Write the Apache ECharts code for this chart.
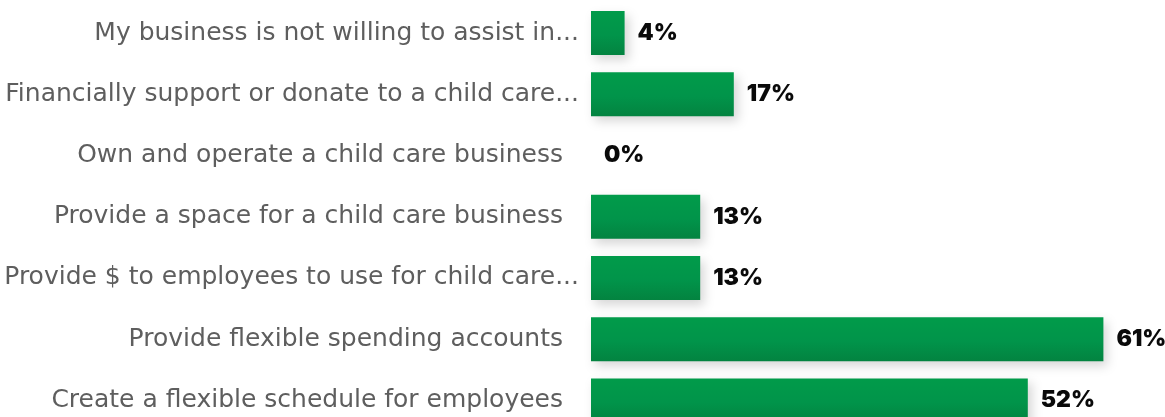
<!DOCTYPE html>
<html>
<head>
<meta charset="utf-8">
<script src="https://cdn.jsdelivr.net/npm/echarts@6/dist/echarts.min.js"></script>
<style>
  html, body { margin: 0; padding: 0; background: #ffffff; overflow: hidden; }
  /* taller than the window so the last row is cut off at the bottom edge */
  #chart { width: 1165px; height: 431px; }
</style>
</head>
<body>
<div id="chart"></div>
<script>
// Ways businesses support employee child care, top to bottom
const categories = [
  'My business is not willing to assist in...',
  'Financially support or donate to a child care...',
  'Own and operate a child care business',
  'Provide a space for a child care business',
  'Provide $ to employees to use for child care...',
  'Provide flexible spending accounts',
  'Create a flexible schedule for employees'
];
// Share of respondents, percent
const percents = [4, 17, 0, 13, 13, 61, 52];

const chart = echarts.init(document.getElementById('chart'), null, { renderer: 'canvas' });

const labelFont = 'DejaVu Sans';
const labelColor = '#5e5e5e';

chart.setOption({
  animation: false,
  backgroundColor: '#ffffff',
  grid: { left: 591, right: 28, top: 2.4, bottom: 0, containLabel: false },
  xAxis: {
    type: 'value',
    min: 0,
    max: 65,
    show: false
  },
  yAxis: {
    type: 'category',
    inverse: true,
    data: categories,
    axisLine: { show: false },
    axisTick: { show: false },
    splitLine: { show: false },
    axisLabel: {
      margin: 12,
      fontFamily: labelFont,
      fontSize: 25,
      color: labelColor,
      // full-length names sit a little further from the bars than truncated ones
      formatter: function (v) {
        return v.endsWith('...') ? v : '{full|' + v + '}';
      },
      rich: {
        full: {
          fontFamily: labelFont,
          fontSize: 25,
          color: labelColor,
          padding: [0, 16, 0, 0]
        }
      }
    }
  },
  series: [{
    type: 'bar',
    data: percents,
    barWidth: 44,
    itemStyle: {
      color: new echarts.graphic.LinearGradient(0, 0, 0, 1, [
        { offset: 0, color: '#019b4a' },
        { offset: 0.55, color: '#01944a' },
        { offset: 1, color: '#038340' }
      ]),
      shadowBlur: 10,
      shadowColor: 'rgba(0,0,0,0.16)',
      shadowOffsetX: 4,
      shadowOffsetY: 5
    },
    label: {
      show: true,
      position: 'right',
      distance: 13,
      formatter: '{c}%',
      fontFamily: 'Inter',
      fontWeight: 900,
      fontSize: 23,
      color: '#0a0a0a'
    }
  }]
});
</script>
</body>
</html>
